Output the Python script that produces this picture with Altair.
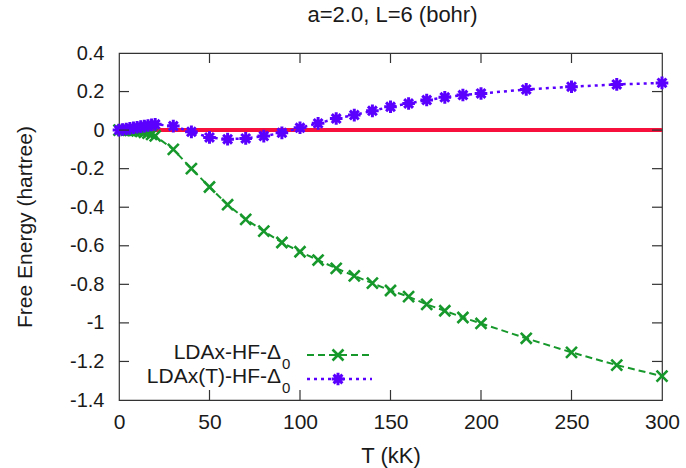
import altair as alt
import pandas as pd

# ---- data ----
T_vals = [0, 2, 4, 6, 8, 10, 12, 14, 16, 18, 20,
          30, 40, 50, 60, 70, 80, 90, 100, 110, 120, 130, 140, 150,
          160, 170, 180, 190, 200, 225, 250, 275, 300]
F_ldax = [0.0, 0.0, 0.0, -0.001, -0.002, -0.004, -0.007, -0.011, -0.016, -0.022, -0.03,
          -0.10, -0.20, -0.295, -0.387, -0.463, -0.524, -0.583, -0.631, -0.674, -0.717,
          -0.756, -0.794, -0.832, -0.864, -0.904, -0.937, -0.972, -1.003, -1.08, -1.153,
          -1.219, -1.276]
F_ldaxT = [0.0, 0.003, 0.006, 0.009, 0.012, 0.015, 0.018, 0.021, 0.024, 0.027, 0.03,
           0.021, -0.009, -0.038, -0.047, -0.043, -0.031, -0.014, 0.012, 0.035, 0.06,
           0.078, 0.10, 0.121, 0.138, 0.156, 0.17, 0.182, 0.19, 0.211, 0.225, 0.237, 0.245]
zero_T = [0, 300]
zero_F = [0, 0]

x_ticks = [0, 50, 100, 150, 200, 250, 300]
y_ticks = [-1.4, -1.2, -1.0, -0.8, -0.6, -0.4, -0.2, 0.0, 0.2, 0.4]
x_inner = [50, 100, 150, 200, 250]
y_inner = [-1.2, -1.0, -0.8, -0.6, -0.4, -0.2, 0.0, 0.2]

title_text = "a=2.0, L=6 (bohr)"
label_green = "LDAx-HF-Δ"
label_purple = "LDAx(T)-HF-Δ"

GREEN = "#16982b"
PURPLE = "#5a00ff"
RED = "#f8103c"
FONT = "Liberation Sans"
TXT = "#1a1a1a"
W, H = 543, 347

X_PATH = "M-1,-1L1,1M-1,1L1,-1"
STAR_PATH = "M-1,0L1,0M0,-1L0,1M-0.7,-0.7L0.7,0.7M-0.7,0.7L0.7,-0.7"

df_g = pd.DataFrame({"T": T_vals, "F": F_ldax})
df_p = pd.DataFrame({"T": T_vals, "F": F_ldaxT})
df_z = pd.DataFrame({"T": zero_T, "F": zero_F})
df_xt = pd.DataFrame({"T": x_inner})
df_yt = pd.DataFrame({"F": y_inner})
one = pd.DataFrame({"a": [0]})

x_enc = alt.X(
    "T:Q",
    scale=alt.Scale(domain=[0, 300], nice=False, zero=False),
    axis=alt.Axis(values=x_ticks, title="T (kK)", labelFontSize=21, labelFont=FONT,
                  labelColor=TXT, labelPadding=11, labelFlush=False, labelOverlap=False,
                  titleFontSize=22, titleFont=FONT,
                  titleFontWeight="normal", titleColor=TXT, titleY=55, titleX=W / 2,
                  titleBaseline="middle", titleAlign="center",
                  grid=False, ticks=False, domain=False),
)
y_enc = alt.Y(
    "F:Q",
    scale=alt.Scale(domain=[-1.4, 0.4], nice=False, zero=False),
    axis=alt.Axis(values=y_ticks, title="Free Energy (hartree)",
                  labelExpr="toString(round(datum.value*10)/10)",
                  labelFontSize=20, labelFont=FONT, labelColor=TXT, labelPadding=15,
                  labelFlush=False, labelOverlap=False,
                  titleFontSize=21, titleFont=FONT, titleFontWeight="normal",
                  titleColor=TXT, titleX=-94, titleY=H / 2, titleAngle=-90,
                  titleBaseline="middle", titleAlign="center",
                  grid=False, ticks=False, domain=False),
)

zero_line = alt.Chart(df_z).mark_line(color=RED, strokeWidth=4).encode(x=x_enc, y=y_enc)

g_line = alt.Chart(df_g).mark_line(color=GREEN, strokeWidth=2, strokeDash=[7, 4]).encode(x=x_enc, y=y_enc)
g_pts = alt.Chart(df_g).mark_point(shape=X_PATH, filled=False, color=GREEN, strokeWidth=2.6,
                                   size=120, opacity=1, clip=False).encode(x=x_enc, y=y_enc)
p_line = alt.Chart(df_p).mark_line(color=PURPLE, strokeWidth=2.5, strokeDash=[3, 4]).encode(x=x_enc, y=y_enc)
p_pts = alt.Chart(df_p).mark_point(shape=STAR_PATH, filled=False, color=PURPLE, strokeWidth=3,
                                   size=160, opacity=1, clip=False).encode(x=x_enc, y=y_enc)

tick_style = dict(color="#333333", strokeWidth=1.2)
t_bottom = alt.Chart(df_xt).mark_rule(**tick_style).encode(x=x_enc, y=alt.value(H), y2=alt.value(H - 10))
t_top = alt.Chart(df_xt).mark_rule(**tick_style).encode(x=x_enc, y=alt.value(0), y2=alt.value(10))
t_left = alt.Chart(df_yt).mark_rule(**tick_style).encode(y=y_enc, x=alt.value(0), x2=alt.value(10))
t_right = alt.Chart(df_yt).mark_rule(**tick_style).encode(y=y_enc, x=alt.value(W), x2=alt.value(W - 10))

title_mark = alt.Chart(one).mark_text(fontSize=22, font=FONT, color=TXT, align="center",
                                      baseline="middle").encode(
    x=alt.value(W / 2 + 2), y=alt.value(-38), text=alt.value(title_text))

def legend_row(label, ytxt, color, dash, width, shape, size, sw):
    txt = alt.Chart(one).mark_text(fontSize=21, font=FONT, color=TXT, align="right",
                                   baseline="middle").encode(
        x=alt.value(162), y=alt.value(ytxt), text=alt.value(label))
    sub = alt.Chart(one).mark_text(fontSize=15, font=FONT, color=TXT, align="left",
                                   baseline="middle").encode(
        x=alt.value(163), y=alt.value(ytxt + 11), text=alt.value("0"))
    ln = alt.Chart(one).mark_rule(color=color, strokeWidth=width, strokeDash=dash).encode(
        x=alt.value(188), x2=alt.value(253), y=alt.value(ytxt + 2))
    pt = alt.Chart(one).mark_point(shape=shape, filled=False, color=color, strokeWidth=sw,
                                   size=size, opacity=1).encode(
        x=alt.value(219), y=alt.value(ytxt + 2))
    return [txt, sub, ln, pt]

leg = legend_row(label_green, 300, GREEN, [7, 4], 2, X_PATH, 120, 2.6) + \
      legend_row(label_purple, 324, PURPLE, [3, 4], 2.5, STAR_PATH, 160, 3)

chart = alt.layer(
    zero_line, g_line, g_pts, p_line, p_pts,
    t_bottom, t_top, t_left, t_right, title_mark, *leg
).properties(
    width=W, height=H,
    autosize=alt.AutoSizeParams(type="none"),
    padding={"left": 119, "top": 53, "right": 24, "bottom": 68},
    background="white",
).configure_view(stroke="#333333", strokeWidth=1.2)

chart.save("out.html", embed_options={"renderer": "svg", "actions": False})
